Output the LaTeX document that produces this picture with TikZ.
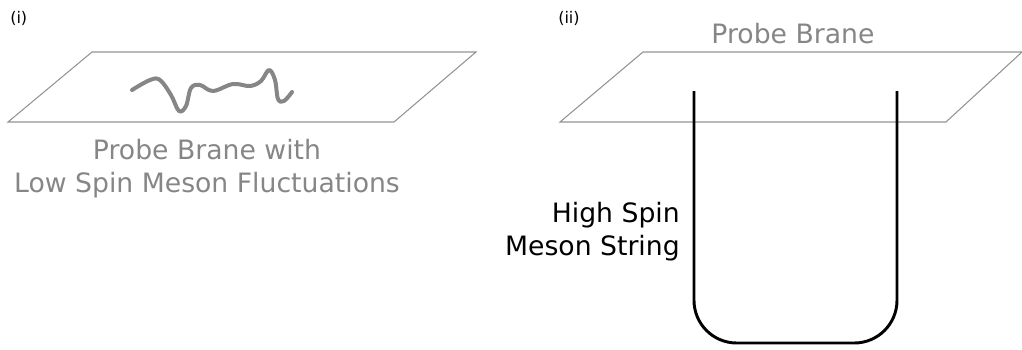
\documentclass[tikz,border=0pt]{standalone}
\usepackage{fontspec}
\setmainfont{DejaVu Sans}
\begin{document}
\begin{tikzpicture}[x=0.75pt,y=-0.75pt,
  brane/.style={draw=gray!85, line width=0.8pt},
  wave/.style={draw=gray!95, line width=3pt, line cap=round, line join=round},
  mesonstring/.style={draw=black, line width=2.2pt, rounded corners=32pt},
  labelg/.style={text=gray!95, font=\fontsize{20}{24}\selectfont, inner sep=0pt, anchor=base},
  labelk/.style={text=black, font=\fontsize{20}{24}\selectfont, inner sep=0pt, anchor=base east},
  tag/.style={font=\fontsize{12}{14}\selectfont, inner sep=0pt, anchor=base west}]
\useasboundingbox (0,0) rectangle (1022,350);
% panel (i)
\draw[brane] (92,52) -- (476,52) -- (394,122) -- (8,122) -- cycle;
\draw[wave] plot[smooth, tension=0.6] coordinates {(132,90) (150,80) (160,80) (171,95) (179,111) (186,106) (191,88) (200,85) (213,91) (233,84) (250,86) (261,81) (269,70) (275,80) (278,99) (284,101) (292,92)};
\node[labelg] (t1a) at (207,159) {Probe Brane with};
\node[labelg] (t1b) at (207,192) {Low Spin Meson Fluctuations};
\node[tag] (i) at (10,23) {(i)};
% panel (ii)
\draw[brane] (643,52) -- (1022,52) -- (946,122) -- (560,122) -- cycle;
\coordinate (sL) at (694,91);
\coordinate (sR) at (897,91);
\draw[mesonstring] (sL) -- (694,343) -- (897,343) -- (sR);
\node[labelg] (t2) at (793,43) {Probe Brane};
\node[labelk] (t3a) at (680,222) {High Spin};
\node[labelk] (t3b) at (680,255) {Meson String};
\node[tag] (ii) at (558,23) {(ii)};
\end{tikzpicture}
\end{document}
